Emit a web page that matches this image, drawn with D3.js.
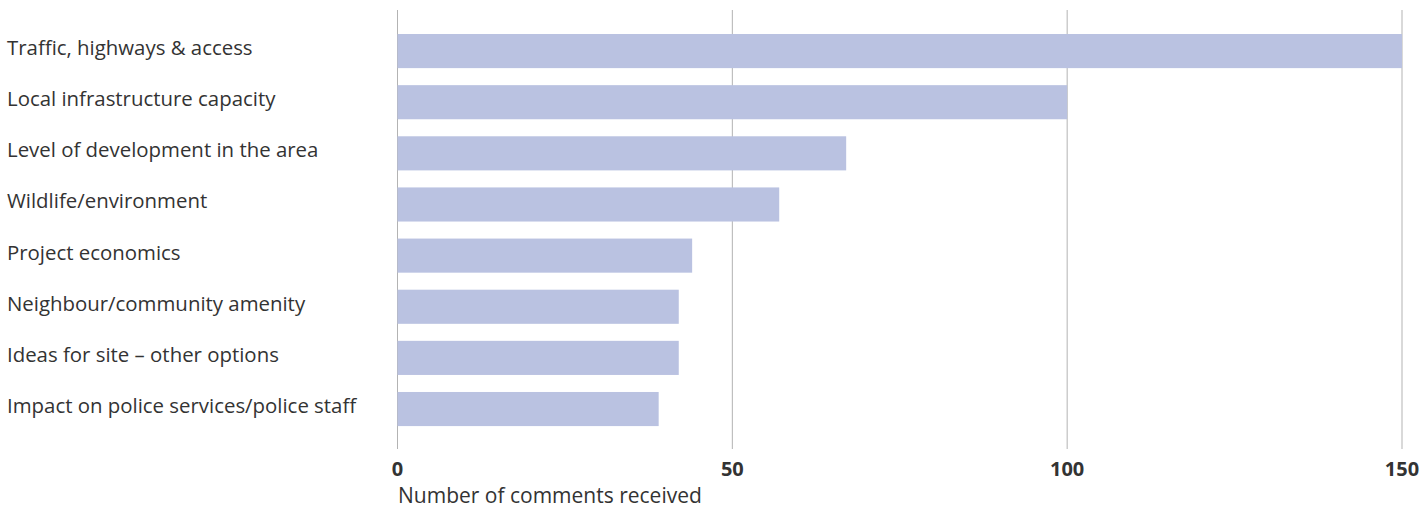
<!DOCTYPE html>
<html>
<head>
<meta charset="utf-8">
<script src="https://cdn.jsdelivr.net/npm/d3@7"></script>
<style>
  body { margin: 0; background: #fff; }
  svg text { font-family: "Open Sans", sans-serif; fill: #333; }
</style>
</head>
<body>
<div id="chart"></div>
<script>
// data
const categories = [
    "Traffic, highways & access",
    "Local infrastructure capacity",
    "Level of development in the area",
    "Wildlife/environment",
    "Project economics",
    "Neighbour/community amenity",
    "Ideas for site \u2013 other options",
    "Impact on police services/police staff"
];
const comments = [150, 100, 67, 57, 44, 42, 42, 39];
const tickValues = [0, 50, 100, 150];

const width = 1424, height = 508;

const svg = d3.select("#chart")
    .append("svg")
    .attr("width", width)
    .attr("height", height);

const x = d3.scaleLinear()
    .domain([0, 150])
    .range([397.5, 1402]);

const y = d3.scaleBand()
    .domain(categories)
    .range([25.5, 434.6])
    .paddingInner(0.333)
    .paddingOuter(0.1665);

// gridlines
svg.append("g")
    .selectAll("line")
    .data(tickValues)
    .join("line")
    .attr("x1", d => x(d))
    .attr("x2", d => x(d))
    .attr("y1", 10)
    .attr("y2", 449)
    .attr("stroke", "#b3b3b3")
    .attr("stroke-width", 1);

// bars
svg.append("g")
    .selectAll("rect")
    .data(comments)
    .join("rect")
    .attr("x", x(0))
    .attr("y", (d, i) => y(categories[i]))
    .attr("width", d => x(d) - x(0))
    .attr("height", y.bandwidth())
    .attr("fill", "#bac2e1");

// category labels
svg.append("g")
    .selectAll("text")
    .data(categories)
    .join("text")
    .attr("x", 7)
    .attr("y", d => y(d) + y.bandwidth() / 2 + 4)
    .style("font-size", "20.4px")
    .text(d => d);

// tick labels
svg.append("g")
    .selectAll("text")
    .data(tickValues)
    .join("text")
    .attr("x", d => x(d))
    .attr("y", 476)
    .attr("text-anchor", "middle")
    .style("font-size", "20px")
    .style("font-weight", "bold")
    .text(d => d3.format("d")(d));

// axis title
svg.append("text")
    .attr("x", 398)
    .attr("y", 503)
    .style("font-size", "21px")
    .text("Number of comments received");
</script>
</body>
</html>
